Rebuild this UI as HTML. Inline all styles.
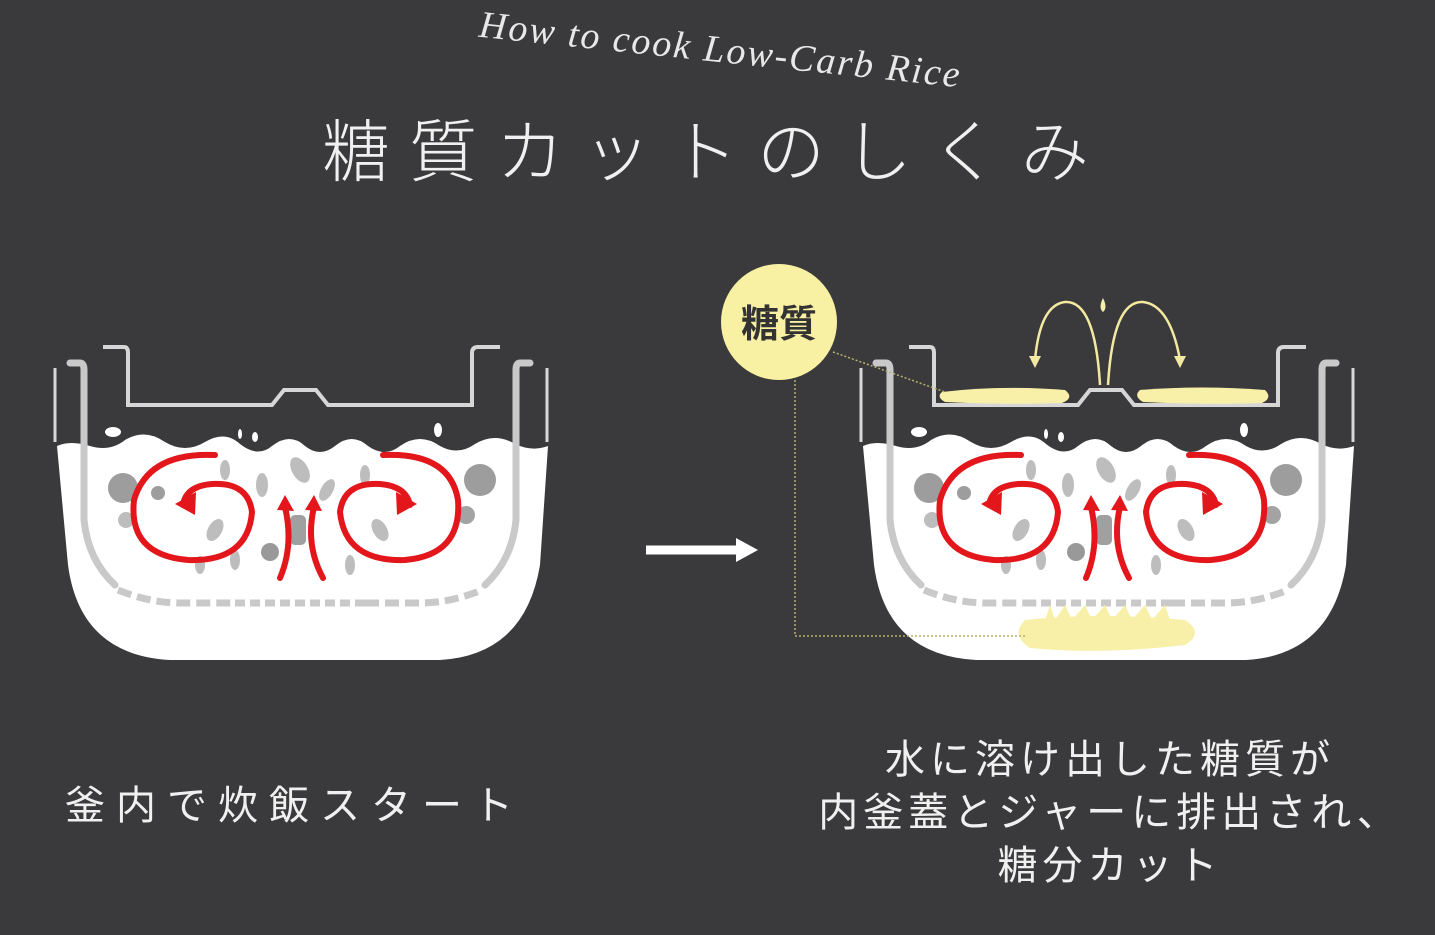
<!DOCTYPE html>
<html><head><meta charset="utf-8"><style>
html,body{margin:0;padding:0;background:#3a3a3c;}
body{width:1435px;height:935px;position:relative;overflow:hidden;font-family:"Liberation Sans","Noto Sans CJK JP",sans-serif;}
.t{position:absolute;color:#f0f0f0;white-space:nowrap;}
</style></head><body>
<svg width="1435" height="935" style="position:absolute;left:0;top:0">
<defs>
<g id="pot">
 <path d="M55,368 L55,442 M547,368 L547,442" stroke="#d8d8d8" stroke-width="3" fill="none"/>
 <path d="M103,347 L124,347 Q128,347 128,353 L128,405 L272,405 L284,390 L316,390 L328,405 L472,405 L472,353 Q472,347 478,347 L500,347" stroke="#d6d6d6" stroke-width="4" fill="none"/>
 <path d="M57,446 Q70,440 90,446 Q110,452 125,440 Q145,428 165,442 Q185,454 205,442 Q225,430 240,444 Q258,458 272,446 Q290,432 305,446 Q320,458 335,446 Q352,432 368,446 Q385,458 400,446 Q420,432 440,446 Q458,456 475,444 Q495,432 515,444 Q532,452 548,446 L540,565 Q525,655 440,660 L170,660 Q80,655 68,565 Z" fill="#ffffff"/>
 <path d="M70,363 L80,363 Q84,363 84,370 L84,520 Q88,560 115,585" stroke="#c9c9c9" stroke-width="7" fill="none" stroke-linecap="round"/>
 <path d="M530,363 L520,363 Q516,363 516,370 L516,520 Q512,560 485,585" stroke="#c9c9c9" stroke-width="7" fill="none" stroke-linecap="round"/>
 <path d="M118,590 Q150,603 180,603 L235,603 M365,603 L420,603 Q450,603 482,590" stroke="#c9c9c9" stroke-width="7" fill="none" stroke-dasharray="14,6"/>
 <path d="M235,603 L365,603" stroke="#c9c9c9" stroke-width="7" fill="none" stroke-dasharray="10,5"/>
 <ellipse cx="113" cy="432" rx="8" ry="5" fill="#fff"/>
 <ellipse cx="240" cy="434" rx="2" ry="5" fill="#fff"/>
 <ellipse cx="255" cy="437" rx="3" ry="5" fill="#fff"/>
 <ellipse cx="438" cy="430" rx="4" ry="7" fill="#fff"/>
 <g fill="#bdbdbd">
  <circle cx="123" cy="488" r="15" fill="#9d9d9d"/><circle cx="158" cy="493" r="7" fill="#9d9d9d"/>
  <circle cx="126" cy="520" r="8"/><circle cx="270" cy="552" r="9" fill="#999"/>
  <circle cx="480" cy="480" r="16" fill="#9d9d9d"/><circle cx="466" cy="515" r="9" fill="#a3a3a3"/>
  <rect x="290" y="515" width="16" height="30" rx="5" fill="#a0a0a0"/>
  <ellipse cx="225" cy="470" rx="5" ry="10"/><ellipse cx="262" cy="485" rx="6" ry="12"/>
  <ellipse cx="300" cy="470" rx="8" ry="14" transform="rotate(-30 300 470)"/><ellipse cx="327" cy="490" rx="6" ry="12" transform="rotate(30 327 490)"/>
  <ellipse cx="215" cy="530" rx="7" ry="12" transform="rotate(30 215 530)"/><ellipse cx="235" cy="560" rx="5" ry="10"/>
  <ellipse cx="365" cy="475" rx="5" ry="10"/><ellipse cx="380" cy="530" rx="7" ry="12" transform="rotate(-30 380 530)"/>
  <ellipse cx="350" cy="565" rx="5" ry="10"/><ellipse cx="200" cy="565" rx="5" ry="9"/>
 </g>
 <g stroke="#e3161b" stroke-width="6" fill="none" stroke-linecap="round">
  <path d="M215,455 Q148,452 134,500 Q128,555 188,560 Q248,562 252,512 Q248,482 212,484 Q186,486 183,505"/>
  <path d="M383,455 Q450,452 458,500 Q462,555 405,560 Q345,562 340,512 Q344,482 380,484 Q406,486 410,505"/>
  <path d="M280,578 Q294,545 285,507"/>
  <path d="M323,578 Q305,545 314,507"/>
 </g>
 <g fill="#e3161b">
  <polygon points="175,504 196,492 195,515"/>
  <polygon points="417,504 396,492 397,515"/>
  <polygon points="277,510 285,495 294,511"/>
  <polygon points="305,510 314,495 322,511"/>
 </g>
</g>
</defs>
<use href="#pot"/>
<use href="#pot" transform="translate(806,0)"/>
<g fill="#f8f0a8">
 <path d="M942,392 Q1000,385 1065,390 Q1075,398 1062,403 Q1000,405 945,402 Q936,397 942,392Z"/>
 <path d="M1140,390 Q1200,385 1265,390 Q1273,398 1262,403 Q1200,405 1143,402 Q1133,396 1140,390Z"/>
 <path d="M1025,620 Q1100,612 1185,620 Q1205,633 1185,645 Q1100,655 1030,648 Q1010,635 1025,620Z"/>
 <path d="M1045,620 L1050,605 L1055,620 L1065,605 L1072,620 L1085,605 L1092,620 L1105,605 L1112,620 L1125,605 L1132,620 L1145,605 L1152,620 L1165,605 L1170,620Z"/>
 <path d="M1103,298 Q1108,308 1103,312 Q1098,308 1103,298Z"/>
</g>
<g stroke="#f3e9a0" stroke-width="2.5" fill="none">
 <path d="M1100,385 Q1095,300 1065,302 Q1040,305 1035,360"/>
 <path d="M1108,385 Q1113,300 1143,302 Q1170,305 1180,360"/>
</g>
<g fill="#f3e9a0">
 <polygon points="1029,356 1041,356 1035,368"/>
 <polygon points="1174,356 1186,356 1180,368"/>
</g>
<circle cx="779" cy="322" r="58" fill="#f8f1a3"/>
<text x="779" y="337" text-anchor="middle" font-family="Liberation Sans,Noto Sans CJK JP,sans-serif" font-size="38" font-weight="bold" fill="#333">糖質</text>
<g stroke="#b8b070" stroke-width="1.5" stroke-dasharray="2,2" fill="none">
 <path d="M833,352 L945,392"/>
 <path d="M795,380 L795,636 L1025,636"/>
</g>
<path d="M646,550 L740,550" stroke="#fff" stroke-width="9"/>
<polygon points="736,538 758,550 736,562" fill="#fff"/>
<text x="720" y="62" text-anchor="middle" transform="rotate(6 720 55)" font-family="Liberation Serif,serif" font-style="italic" font-size="38" fill="#e8e8e8" letter-spacing="2">How to cook Low-Carb Rice</text>
</svg>
<div class="t" style="left:322px;top:108px;font-size:68px;letter-spacing:19px;font-weight:300;line-height:90px">糖質カットのしくみ</div>
<div class="t" style="left:65px;top:778px;font-size:40px;letter-spacing:11px;line-height:56px">釜内で炊飯スタート</div>
<div class="t" style="left:790px;top:734px;width:640px;text-align:center;font-size:40px;letter-spacing:5px;line-height:53px">水に溶け出した糖質が<br>内釜蓋とジャーに排出され、<br>糖分カット</div>
</body></html>
